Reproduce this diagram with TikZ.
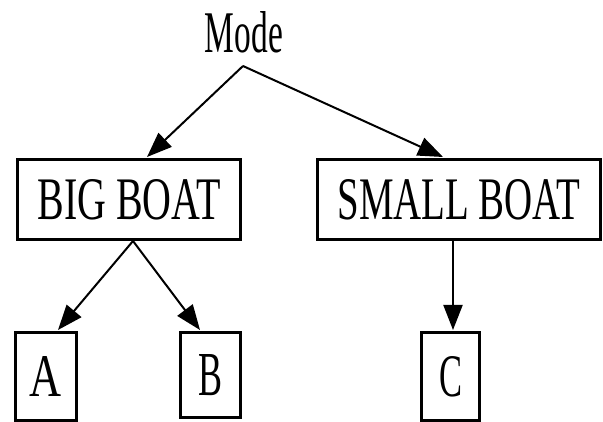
\documentclass[tikz,border=0pt]{standalone}
\usepackage{fontspec}
\setmainfont{Liberation Serif}
\usetikzlibrary{arrows.meta}
\newcommand{\fitt}[3]{\resizebox{#1pt}{#2pt}{#3}}
\begin{document}
\begin{tikzpicture}[x=1pt,y=-1pt,
  box/.style={draw,line width=3pt,inner sep=0pt},
  conn/.style={line width=2pt,-{Triangle[length=25pt,width=19pt]}},
  line/.style={line width=2pt}
]
\useasboundingbox (0,0) rectangle (603,422);
\node[inner sep=0pt] (mode) at (244,32.5) {\fitt{78}{41}{Mode}};
\coordinate (m) at (243,66);
\node[box,minimum width=223pt,minimum height=80pt] (big) at (129,199.5) {\fitt{183}{40}{BIG BOAT}};
\node[box,minimum width=283pt,minimum height=80pt] (small) at (459,199.5) {\fitt{243}{40}{SMALL BOAT}};
\node[box,minimum width=61pt,minimum height=88pt] (a) at (46,376.5) {\fitt{32}{40}{A}};
\node[box,minimum width=60pt,minimum height=85pt] (b) at (210.5,375) {\fitt{24}{41}{B}};
\node[box,minimum width=58pt,minimum height=88pt] (c) at (450.5,376.5) {\fitt{23}{40}{C}};
\draw[conn] (m) -- ([xshift=18pt,yshift=1pt]big.north);
\draw[conn] (m) -- ([xshift=-16pt,yshift=1pt]small.north);
\coordinate (bb) at ([xshift=4pt]big.south);
\draw[conn] (bb) -- ([xshift=12pt,yshift=1pt]a.north);
\draw[conn] (bb) -- ([xshift=-10.5pt,yshift=1pt]b.north);
\draw[conn] ([xshift=-6pt]small.south) -- ([xshift=2.5pt,yshift=1pt]c.north);
\end{tikzpicture}
\end{document}
